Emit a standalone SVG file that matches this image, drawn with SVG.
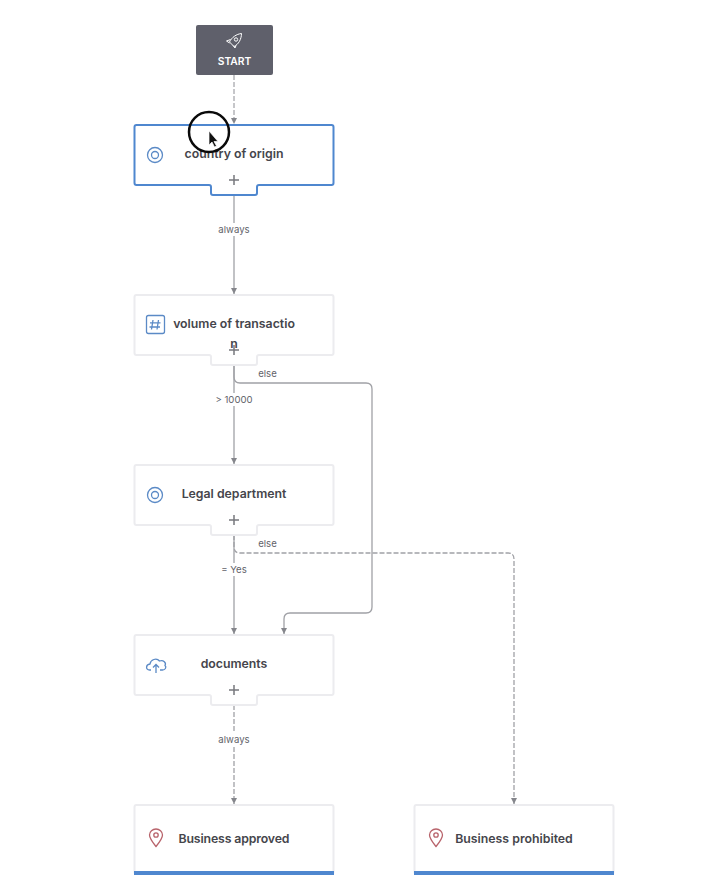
<svg xmlns="http://www.w3.org/2000/svg" width="704" height="896" viewBox="0 0 704 896">
<style>
.card{fill:#fff;stroke:#ececef;stroke-width:2;stroke-linejoin:round}
.sel{fill:#fff;stroke:#4f87cf;stroke-width:2;stroke-linejoin:round}
.t{font:600 12.3px Inter,"Liberation Sans",sans-serif;fill:#45454b;text-anchor:middle}
.l{font:400 9.6px Inter,"Liberation Sans",sans-serif;fill:#62636a;text-anchor:middle}
.bg{fill:#fff}
.c{fill:none;stroke:#8d8e94;stroke-width:1}
.s{fill:none;stroke:#a0a1a6;stroke-width:1.300}
.d{stroke-dasharray:5 2}
.plus{stroke:#77787e;stroke-width:1.500;fill:none}
.i{fill:none;stroke:#5b8ac6;stroke-width:1.300}
.p{fill:none;stroke:#b8636b;stroke-width:1.300}
</style>
<defs>
<marker id="a" markerUnits="userSpaceOnUse" markerWidth="8" markerHeight="7" refX="6" refY="3" orient="auto"><path d="M0 0L6 3L0 6Z" fill="#85868c"/></marker>
<path id="shape" d="M136.500 0H331.500Q333.500 0 333.500 2V58Q333.500 60 331.500 60H259Q257 60 257 62V68Q257 70 255 70H213Q211 70 211 68V62Q211 60 209 60H136.500Q134.500 60 134.500 58V2Q134.500 0 136.500 0Z"/>
</defs>
<g id="connectors">
<path class="c d" d="M234 75V124" marker-end="url(#a)"/>
<path class="s" d="M234 195V294" marker-end="url(#a)"/>
<path class="s" d="M234 365V464" marker-end="url(#a)"/>
<path class="s" d="M234 535V634" marker-end="url(#a)"/>
<path class="s" d="M234 365V377Q234 383 240 383H366Q372 383 372 389V607Q372 613 366 613H290Q284 613 284 619V634" marker-end="url(#a)"/>
<path class="s d" d="M234 535V547Q234 553 240 553H508Q514 553 514 559V804" marker-end="url(#a)"/>
<path class="s d" d="M234 705V804" marker-end="url(#a)"/>
<rect class="bg" x="214" y="223" width="41" height="13"/><text class="l" x="234" y="233">always</text>
<rect class="bg" x="212" y="393" width="44" height="13"/><text class="l" x="234" y="403">&gt; 10000</text>
<text class="l" x="267.500" y="377">else</text>
<rect class="bg" x="219" y="563" width="30" height="13"/><text class="l" x="234" y="573">= Yes</text>
<text class="l" x="267.500" y="547">else</text>
<rect class="bg" x="214" y="733" width="41" height="13"/><text class="l" x="234" y="743">always</text>
</g>
<g id="start">
<rect x="196" y="25" width="77" height="50" rx="2" fill="#5f606b"/>
<g fill="none" stroke="#fff" stroke-width="1" stroke-linejoin="round"><path d="M241.500 33.500C236.500 34 231.500 37.500 229.500 42L234 46.500C238.500 44.500 241.500 39 241.500 33.500Z"/><circle cx="236" cy="39.500" r="1.700"/><path d="M230.500 39.500L226.500 41L229.500 43M236 45.500L235 48L233 45.500"/></g>
<text x="234.500" y="65" style="font:600 10.300px Inter,'Liberation Sans',sans-serif;fill:#fff;text-anchor:middle">START</text>
</g>
<g id="country-of-origin">
<use href="#shape" y="125" class="sel"/>
<circle class="i" cx="155" cy="155" r="7.500"/><circle class="i" cx="155" cy="155" r="3.500"/>
<text class="t" x="234" y="158">country of origin</text>
<path class="plus" d="M229 180H239M234 175V185"/>
</g>
<g id="volume-of-transaction">
<use href="#shape" y="295" class="card"/>
<rect class="i" x="146.500" y="315.500" width="18" height="18" rx="2"/>
<path class="i" d="M153 320L151.500 329.500M158.500 320L157 329.500M150 322.800H160.500M149.500 327H160"/>
<text class="t" x="234" y="328">volume of transactio</text>
<text class="t" x="234" y="348">n</text>
<path class="plus" d="M229 350H239M234 345V355"/>
</g>
<g id="legal-department">
<use href="#shape" y="465" class="card"/>
<circle class="i" cx="155" cy="495" r="7.500"/><circle class="i" cx="155" cy="495" r="3.500"/>
<text class="t" x="234" y="498">Legal department</text>
<path class="plus" d="M229 520H239M234 515V525"/>
</g>
<g id="documents">
<use href="#shape" y="635" class="card"/>
<path class="i" d="M151 670H149.500C145.500 670 145.500 664.500 150 664C150.500 659.500 156.500 657.500 159.500 661C163.500 659.500 166.500 663 165 665.500C167 667.500 165 670 162.500 670H160"/>
<path class="i" d="M156 673V664.500M153 667.500L156 664.500L159 667.500"/>
<text class="t" x="234" y="668">documents</text>
<path class="plus" d="M229 690H239M234 685V695"/>
</g>
<g id="business-approved">
<rect class="card" x="134.500" y="805" width="199" height="69" rx="2"/>
<rect x="134" y="871" width="200" height="4" fill="#4f87cf"/>
<path class="p" d="M156 846.500C152 841.500 149.500 838.500 149.500 835C149.500 831.500 152.500 829 156 829C159.500 829 162.500 831.500 162.500 835C162.500 838.500 160 841.500 156 846.500Z"/><circle class="p" cx="156" cy="835" r="2.200"/>
<text class="t" x="234" y="843" textLength="111">Business approved</text>
</g>
<g id="business-prohibited">
<rect class="card" x="414.500" y="805" width="199" height="69" rx="2"/>
<rect x="414" y="871" width="200" height="4" fill="#4f87cf"/>
<path class="p" d="M436 846.500C432 841.500 429.500 838.500 429.500 835C429.500 831.500 432.500 829 436 829C439.500 829 442.500 831.500 442.500 835C442.500 838.500 440 841.500 436 846.500Z"/><circle class="p" cx="436" cy="835" r="2.200"/>
<text class="t" x="514" y="843">Business prohibited</text>
</g>
<g id="cursor">
<circle cx="209" cy="132" r="20" fill="none" stroke="#0a0a0a" stroke-width="2.500"/>
<path d="M209 131V145L212 142L214.500 147L216.500 146L214 141.500H218Z" fill="#111" stroke="#fff" stroke-width=".7"/>
</g>
</svg>
